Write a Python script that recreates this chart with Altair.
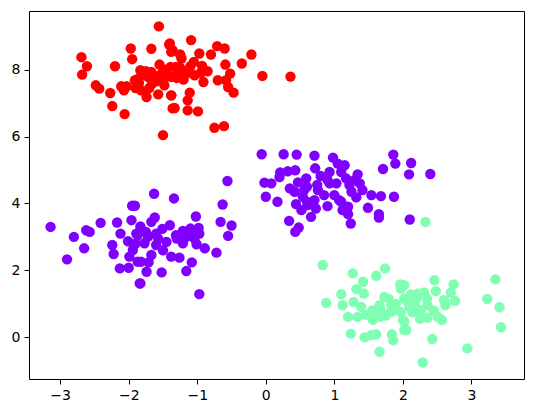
import altair as alt
import pandas as pd

# Cluster 2 (red)
red_x = [-1.56, -2.69, -2.61, -2.68, -1.97, -1.67, -1.41, -1.95, -2.20, -2.48, -2.43, -2.27,
         -2.11, -2.03, -2.07, -2.24, -2.06, -1.50, -1.83, -1.86, -1.67, -1.52, -1.39, -1.82,
         -1.74, -1.57, -1.66, -1.48, -1.38, -1.36, -1.91, -1.72, -1.48, -1.38,
         -1.09, -1.40, -1.36, -0.97, -0.71, -0.60, -0.80, -0.21, -0.35, -0.59, -0.05, -1.23,
         -1.05, -0.93, -1.31, -1.16, -1.04, -1.38, -0.91, -0.70, -0.52, -0.58, -0.55, -0.47,
         -1.11, -1.14, -1.38, -1.33, -1.14, -0.99, -0.75, -0.61, -1.28, 0.36,
         -1.60, -1.20, -1.75, -1.45, -1.25, -0.85,
         -1.78, -1.62, -1.30, -1.20, -1.55, -1.25, -1.10, -0.95, -1.70, -1.90, -1.85, -1.45]
red_y = [9.29, 8.37, 8.10, 7.85, 8.63, 8.62, 8.75, 8.31, 8.10, 7.53, 7.43, 7.30,
         7.50, 7.50, 7.38, 6.91, 6.67, 6.04, 7.98, 7.73, 7.93, 7.88, 8.08, 7.38,
         7.18, 7.26, 7.58, 7.53, 7.23, 6.84, 7.68, 7.78, 7.73, 8.53,
         8.88, 8.78, 8.58, 8.48, 8.70, 8.63, 8.45, 8.45, 8.18, 8.15, 7.81, 8.33,
         8.23, 8.11, 8.08, 7.88, 7.83, 7.78, 7.63, 7.68, 7.88, 7.68, 7.48, 7.31,
         7.31, 7.08, 7.23, 6.85, 6.78, 6.75, 6.26, 6.31, 7.93, 7.79,
         7.65, 7.70, 7.95, 8.00, 8.05, 7.95,
         7.85, 7.80, 7.75, 7.95, 8.15, 8.45, 8.10, 7.90, 7.45, 7.45, 7.60, 7.95]

# Cluster 0 (purple), left blob and right blob
purple_x = [-1.95, -3.14, -2.80, -2.62, -2.57, -2.41, -2.17, -1.96, -2.12, -2.65, -2.90, -2.24,
            -2.22, -2.01, -2.13, -2.00, -1.89, -1.94, -1.99, -1.84, -1.87,
            -1.63, -1.34, -1.91, -0.63, -1.02, -1.62, -1.67, -0.66, -0.50, -0.55, -1.83, -1.51,
            -0.98, -1.21, -1.09, -1.31, -0.97, -1.16, -1.04, -1.87, -1.72, -1.57, -1.77, -1.60,
            -1.21, -1.01, -0.89, -0.72, -1.67, -1.38, -1.26, -1.08, -1.82, -1.71, -1.74, -1.52,
            -1.16, -1.83, -0.97, -0.56,
            -1.75, -1.60, -1.45, -1.30, -1.10, -1.50, -1.90, -1.40,
            -0.06, 0.26, 0.45, 0.71, 0.98, 1.05, 0.72, 0.21, 0.32, 0.43, 0.20, 0.80,
            0.93, -0.02, 0.08, 0.59, 0.47, 0.42, 0.56, 0.76, 0.93, -0.00, 0.17, 0.54,
            0.71, 0.44, 0.61, 0.52, 0.73, 0.90, 0.66, 0.34, 0.48, 0.43, 1.03, 1.00,
            1.07, 1.12,
            0.60, 0.75, 0.85, 0.60, 0.35, 1.25, 1.30, 0.90,
            1.86, 1.89, 2.12, 1.71, 2.09, 2.40, 1.15, 1.10, 1.34, 1.17, 1.22, 1.37,
            1.41, 1.54, 1.68, 1.87, 1.32, 1.10, 1.20, 1.15, 1.49, 1.65, 1.65, 1.20,
            1.24, 2.10]
purple_y = [3.93, 3.30, 3.00, 3.20, 3.15, 3.42, 3.43, 3.50, 3.10, 2.66, 2.33, 2.76,
            2.49, 2.87, 2.06, 2.08, 3.10, 2.61, 2.41, 1.61, 2.26,
            4.29, 4.15, 3.93, 3.97, 3.61, 3.58, 3.45, 3.45, 3.34, 3.03, 3.31, 3.24,
            3.27, 3.18, 3.15, 3.05, 3.10, 3.00, 2.95, 3.05, 3.00, 2.95, 2.81, 2.76,
            2.81, 2.78, 2.66, 2.53, 2.46, 2.41, 2.38, 2.24, 2.26, 2.24, 1.96, 1.94,
            1.98, 1.61, 1.29, 4.67,
            3.15, 3.10, 2.85, 2.95, 3.25, 2.60, 2.80, 3.35,
            5.47, 5.47, 5.46, 5.43, 5.37, 5.19, 5.05, 4.93, 4.96, 4.99, 4.79, 4.82,
            4.94, 4.62, 4.60, 4.75, 4.63, 4.35, 4.40, 4.40, 4.60, 4.20, 4.05, 4.20,
            4.10, 3.98, 3.95, 3.80, 3.85, 3.92, 3.60, 3.48, 3.28, 3.15, 4.60, 4.25,
            4.10, 3.80,
            4.50, 4.55, 4.25, 4.05, 4.45, 4.35, 4.70, 4.70,
            5.46, 5.19, 5.21, 5.03, 4.87, 4.88, 5.14, 4.94, 4.87, 4.75, 4.55, 4.60,
            4.40, 4.25, 4.22, 4.20, 4.18, 4.05, 3.90, 3.80, 3.87, 3.68, 3.58, 3.68,
            3.40, 3.52]

# Cluster 1 (green)
green_x = [2.33,
           0.83, 1.27, 1.74, 1.61, 1.42, 1.32, 1.43, 1.10, 0.88, 1.12, 1.28, 1.39,
           1.96, 1.97, 1.73, 1.80, 1.66, 1.83, 2.02, 1.68, 1.83, 1.97, 1.20, 1.34,
           1.46, 1.56, 1.66, 2.00, 2.02, 1.24, 1.44, 1.54, 1.61, 1.84, 1.86, 1.66,
           2.46, 2.74, 3.35, 2.02, 2.12, 2.22, 2.31, 2.48, 2.70, 2.60, 2.76, 3.23,
           3.41, 2.07, 2.17, 2.36, 2.62, 2.14, 2.26, 2.36, 2.51, 2.57, 2.02, 2.05,
           3.43, 2.43, 2.94, 2.29,
           2.20, 2.35, 2.10, 2.45, 1.90, 1.75, 2.25, 1.55]
green_y = [3.45,
           2.16, 1.91, 2.06, 1.84, 1.66, 1.44, 1.31, 1.29, 1.03, 0.96, 1.06, 0.91,
           1.58, 1.46, 1.21, 1.14, 0.96, 0.96, 1.16, 0.81, 0.76, 0.76, 0.61, 0.61,
           0.67, 0.52, 0.61, 0.52, 0.22, 0.11, 0.00, 0.07, 0.09, 0.09, -0.09, -0.43,
           1.71, 1.58, 1.73, 1.56, 1.28, 1.31, 1.34, 1.38, 1.34, 1.11, 1.09, 1.15,
           0.90, 1.06, 0.96, 0.96, 0.96, 0.75, 0.81, 0.59, 0.61, 0.52, 0.47, 0.22,
           0.30, -0.05, -0.33, -0.75,
           1.15, 1.15, 0.90, 0.80, 1.00, 0.65, 0.55, 0.80]

x_ticks = [-3, -2, -1, 0, 1, 2, 3]
y_ticks = [0, 2, 4, 6, 8]

rows = []
for xs, ys, lab in [(purple_x, purple_y, "0"), (green_x, green_y, "1"), (red_x, red_y, "2")]:
    for a, b in zip(xs, ys):
        rows.append({"x": a, "y": b, "cluster": lab})
df = pd.DataFrame(rows)

axis_common = dict(
    grid=False, domain=False, tickColor="black", tickSize=5, tickWidth=1,
    labelColor="black", labelFont="DejaVu Sans", labelFontSize=14,
    labelPadding=4, title=None,
)

chart = alt.Chart(df).mark_circle(size=108, opacity=1).encode(
    x=alt.X("x:Q", scale=alt.Scale(domain=[-3.455, 3.767], nice=False, zero=False),
            axis=alt.Axis(values=x_ticks, format="d", **axis_common)),
    y=alt.Y("y:Q", scale=alt.Scale(domain=[-1.245, 9.75], nice=False, zero=False),
            axis=alt.Axis(values=y_ticks, format="d", **axis_common)),
    color=alt.Color("cluster:N", scale=alt.Scale(domain=["0", "1", "2"],
                    range=["#8000ff", "#80ffb4", "#ff0000"]), legend=None),
).properties(
    width=495, height=368,
    autosize=alt.AutoSizeParams(type="none"),
    padding={"left": 21, "top": 3, "right": 2, "bottom": 26},
).configure_view(stroke="black", strokeWidth=1)

chart.save("out.html", embed_options={"renderer": "svg", "actions": False})
